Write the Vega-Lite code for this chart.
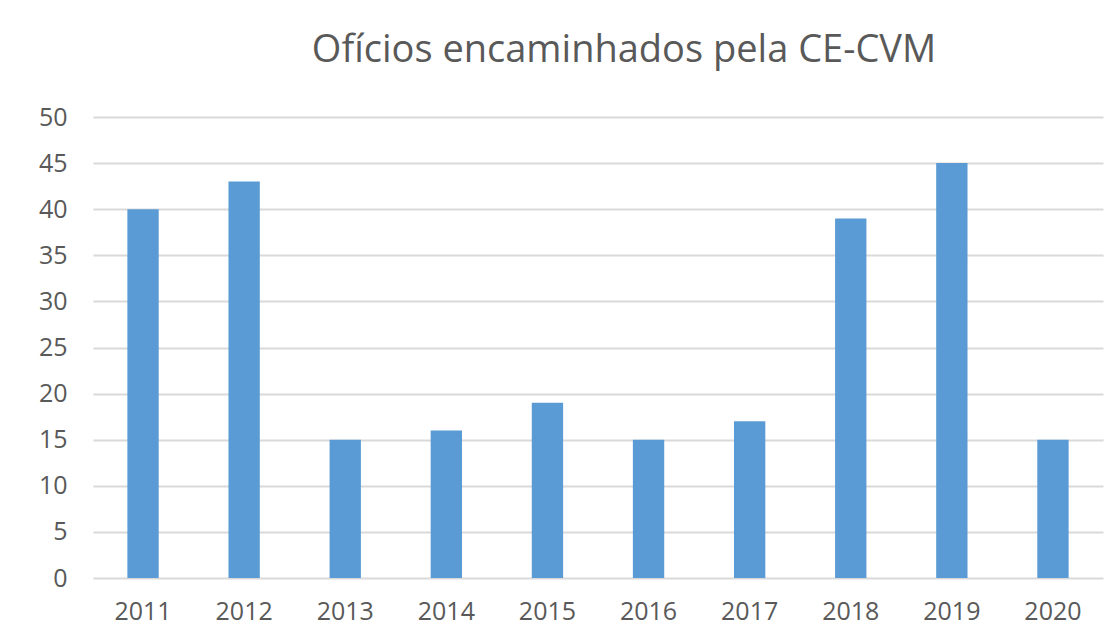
{
  "$schema": "https://vega.github.io/schema/vega-lite/v6.json",
  "autosize": "none",
  "width": 1010,
  "height": 461,
  "padding": {"left": 93, "top": 117, "right": 3, "bottom": 58},
  "background": "white",
  "title": {
    "text": "Ofícios encaminhados pela CE-CVM",
    "font": "Open Sans",
    "fontSize": 38,
    "fontWeight": "normal",
    "color": "#595959",
    "anchor": "middle",
    "dx": 26,
    "offset": 35
  },
  "data": {
    "values": [
      {"ano": "2011", "oficios": 40},
      {"ano": "2012", "oficios": 43},
      {"ano": "2013", "oficios": 15},
      {"ano": "2014", "oficios": 16},
      {"ano": "2015", "oficios": 19},
      {"ano": "2016", "oficios": 15},
      {"ano": "2017", "oficios": 17},
      {"ano": "2018", "oficios": 39},
      {"ano": "2019", "oficios": 45},
      {"ano": "2020", "oficios": 15}
    ]
  },
  "mark": {"type": "bar", "color": "#5b9bd5"},
  "encoding": {
    "x": {
      "field": "ano",
      "type": "ordinal",
      "scale": {"paddingInner": 0.69, "paddingOuter": 0.34},
      "axis": {
        "title": null,
        "labelAngle": 0,
        "labelFont": "Open Sans",
        "labelFontSize": 25,
        "labelColor": "#595959",
        "labelPadding": 21,
        "ticks": false,
        "domain": false,
        "grid": false
      }
    },
    "y": {
      "field": "oficios",
      "type": "quantitative",
      "scale": {"domain": [0, 50], "nice": false},
      "axis": {
        "title": null,
        "values": [0, 5, 10, 15, 20, 25, 30, 35, 40, 45, 50],
        "labelFont": "Open Sans",
        "labelFontSize": 25,
        "labelColor": "#595959",
        "labelPadding": 26,
        "ticks": false,
        "domain": false,
        "grid": true,
        "gridColor": "#d9d9d9",
        "gridWidth": 2
      }
    }
  },
  "config": {"view": {"stroke": null}}
}
